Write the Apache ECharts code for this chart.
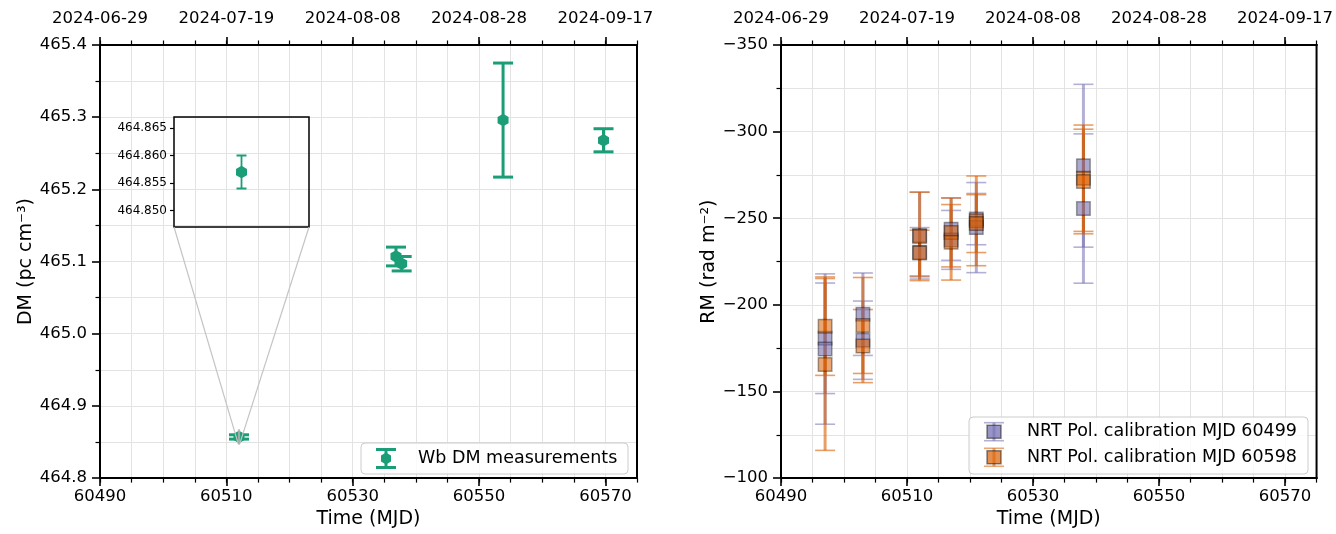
<!DOCTYPE html>
<html>
<head>
<meta charset="utf-8">
<title>DM and RM</title>
<script src="https://cdn.jsdelivr.net/npm/echarts@6/dist/echarts.min.js"></script>
<style>
html, body { margin: 0; padding: 0; background: #fff; }
#chart { width: 1336px; height: 534px; }
</style>
</head>
<body>
<div id="chart"></div>
<script>
// ---- data ----
var dmMjd   = [60512.0, 60536.85, 60537.75, 60553.8, 60569.7];
var dmValue = [464.857, 465.107, 465.097, 465.296, 465.268];
var dmError = [0.003, 0.013, 0.010, 0.079, 0.016];

var rmMjd      = [60497, 60497, 60503, 60503, 60512, 60512, 60517, 60517, 60521, 60521, 60538, 60538];
var rm60499    = [-180.7, -174.5, -194.6, -179.6, -240.0, -230.4, -243.7, -237.5, -249.5, -244.6, -280.3, -255.6];
var rm60499Err = [31.9, 43.4, 23.8, 22.6, 25.1, 14.2, 18.0, 17.0, 14.8, 26.0, 47.0, 43.1];
var rm60598    = [-187.7, -165.6, -188.1, -176.2, -239.5, -229.9, -241.8, -236.1, -248.5, -246.9, -273.1, -271.2];
var rm60598Err = [28.4, 49.6, 27.7, 21.1, 25.5, 13.2, 19.9, 21.8, 25.9, 16.7, 30.7, 30.2];

var xMajorTicks   = [60490, 60510, 60530, 60550, 60570];
var topTickLabels = ['2024-06-29', '2024-07-19', '2024-08-08', '2024-08-28', '2024-09-17'];
var insetTicks    = [464.850, 464.855, 464.860, 464.865];

var dmName = 'Wb DM measurements';
var rmNameA = 'NRT Pol. calibration MJD 60499';
var rmNameB = 'NRT Pol. calibration MJD 60598';

(function () {
    var chart = echarts.init(document.getElementById('chart'));

    var FONT = 'DejaVu Sans';
    var GREEN = '#1b9e77', PURPLE = '#7570b3', ORANGE = '#d95f02';
    var GRIDLINE = '#e3e3e3';
    var X_MIN = 60490, X_MAX = 60575;
    var insetX = [60511.9, 60512.1];
    var insetY = [464.847, 464.867];
    var INSET = {left: 174, top: 117, width: 135, height: 110};

    function rgba(hex, a) {
        var n = parseInt(hex.slice(1), 16);
        return 'rgba(' + (n >> 16) + ',' + ((n >> 8) & 255) + ',' + (n & 255) + ',' + a + ')';
    }
    function zip3(a, b, c) {
        return a.map(function (v, i) { return [v, b[i], c[i]]; });
    }

    var dmData = zip3(dmMjd, dmValue, dmError);
    var dmInset = dmData.filter(function (d) { return d[0] >= insetX[0] && d[0] <= insetX[1]; });
    var rmDataA = zip3(rmMjd, rm60499, rm60499Err);
    var rmDataB = zip3(rmMjd, rm60598, rm60598Err);

    var hexPath = 'path://M0,-1L0.866,-0.5L0.866,0.5L0,1L-0.866,0.5L-0.866,-0.5Z';

    function errorBars(name, xi, yi, data, st) {
        return {
            type: 'custom', name: name, xAxisIndex: xi, yAxisIndex: yi,
            data: data, encode: {x: 0, y: 1},
            itemStyle: {color: st.color},
            renderItem: function (params, api) {
                var x = api.value(0), y = api.value(1), e = api.value(2);
                var p1 = api.coord([x, y + e]);
                var p2 = api.coord([x, y - e]);
                var hw = st.cap / 2;
                return {
                    type: 'group',
                    children: [
                        {type: 'line', shape: {x1: p1[0], y1: p1[1], x2: p2[0], y2: p2[1]},
                         style: {stroke: st.color, lineWidth: st.width}},
                        {type: 'line', shape: {x1: p1[0] - hw, y1: p1[1], x2: p1[0] + hw, y2: p1[1]},
                         style: {stroke: st.color, lineWidth: st.capWidth}},
                        {type: 'line', shape: {x1: p2[0] - hw, y1: p2[1], x2: p2[0] + hw, y2: p2[1]},
                         style: {stroke: st.color, lineWidth: st.capWidth}}
                    ]
                };
            }
        };
    }

    function markers(name, xi, yi, data, symbol, size, itemStyle) {
        return {
            type: 'scatter', name: name, xAxisIndex: xi, yAxisIndex: yi,
            data: data.map(function (d) { return [d[0], d[1]]; }),
            symbol: symbol, symbolSize: size, itemStyle: itemStyle
        };
    }

    var axisLine = {show: true, lineStyle: {color: '#000', width: 2}};
    var tickLabel = {color: '#000', fontFamily: FONT, fontSize: 16.5};

    function minorX(grid, pos) {
        return {
            type: 'value', gridIndex: grid, position: pos, min: X_MIN, max: X_MAX, interval: 5,
            axisLine: axisLine,
            axisTick: {show: true, length: 4.5, lineStyle: {color: '#000', width: 1.2}},
            axisLabel: {show: false},
            splitLine: {show: pos === 'bottom', lineStyle: {color: GRIDLINE, width: 1}}
        };
    }
    function majorX(grid, pos) {
        var top = pos === 'top';
        var ax = {
            type: 'value', gridIndex: grid, position: pos, min: X_MIN, max: X_MAX,
            axisLine: axisLine,
            axisTick: {show: true, customValues: xMajorTicks, length: 8, lineStyle: {color: '#000', width: 1.6}},
            axisLabel: echarts.util.extend({
                customValues: xMajorTicks,
                margin: top ? 18 : 10,
                formatter: function (v) {
                    if (!top) return String(v);
                    var i = xMajorTicks.indexOf(v);
                    return i >= 0 ? topTickLabels[i] : '';
                }
            }, tickLabel),
            splitLine: {show: false}
        };
        if (!top) {
            ax.name = 'Time (MJD)';
            ax.nameLocation = 'middle';
            ax.nameGap = 30;
            ax.nameTextStyle = {color: '#000', fontFamily: FONT, fontSize: 19};
        }
        return ax;
    }

    var option = {
        animation: false,
        backgroundColor: '#fff',
        textStyle: {fontFamily: FONT, color: '#000'},
        grid: [
            {left: 100, top: 45, width: 537, height: 439, show: true, z: 3,
             borderColor: '#000', borderWidth: 2, backgroundColor: 'transparent'},
            {left: 781, top: 45, width: 536, height: 439, show: true, z: 3,
             borderColor: '#000', borderWidth: 2, backgroundColor: 'transparent'},
            {left: INSET.left, top: INSET.top, width: INSET.width, height: INSET.height, show: true, z: 3,
             borderColor: '#000', borderWidth: 1.5, backgroundColor: 'transparent'}
        ],
        xAxis: [
            minorX(0, 'bottom'), majorX(0, 'bottom'), minorX(0, 'top'), majorX(0, 'top'),
            minorX(1, 'bottom'), majorX(1, 'bottom'), minorX(1, 'top'), majorX(1, 'top'),
            {type: 'value', gridIndex: 2, min: insetX[0], max: insetX[1],
             axisLine: {show: false}, axisTick: {show: false}, axisLabel: {show: false}, splitLine: {show: false}}
        ],
        yAxis: [
            {
                type: 'value', gridIndex: 0, min: 464.8, max: 465.4, interval: 0.1,
                axisLine: axisLine,
                axisTick: {show: true, length: 8, lineStyle: {color: '#000', width: 1.6}},
                minorTick: {show: true, splitNumber: 2, length: 4.5, lineStyle: {color: '#000', width: 1.2}},
                splitLine: {show: true, lineStyle: {color: GRIDLINE, width: 1}},
                minorSplitLine: {show: true, lineStyle: {color: GRIDLINE, width: 1}},
                axisLabel: echarts.util.extend({margin: 13, formatter: function (v) { return v.toFixed(1); }}, tickLabel),
                name: 'DM (pc cm\u207B\u00B3)', nameLocation: 'middle', nameGap: 64,
                nameTextStyle: {color: '#000', fontFamily: FONT, fontSize: 19}
            },
            {
                type: 'value', gridIndex: 1, min: -350, max: -100, interval: 50, inverse: true,
                axisLine: axisLine,
                axisTick: {show: true, length: 8, lineStyle: {color: '#000', width: 1.6}},
                minorTick: {show: true, splitNumber: 2, length: 4.5, lineStyle: {color: '#000', width: 1.2}},
                splitLine: {show: true, lineStyle: {color: GRIDLINE, width: 1}},
                minorSplitLine: {show: true, lineStyle: {color: GRIDLINE, width: 1}},
                axisLabel: echarts.util.extend({margin: 13, formatter: function (v) {
                    return (v < 0 ? '\u2212' : '') + Math.abs(v);
                }}, tickLabel),
                name: 'RM (rad m\u207B\u00B2)', nameLocation: 'middle', nameGap: 62,
                nameTextStyle: {color: '#000', fontFamily: FONT, fontSize: 19}
            },
            {
                type: 'value', gridIndex: 2, min: insetY[0], max: insetY[1],
                axisLine: {show: false},
                axisTick: {show: true, customValues: insetTicks, length: 4, lineStyle: {color: '#000', width: 1.2}},
                axisLabel: {customValues: insetTicks, margin: 7, color: '#000', fontFamily: FONT, fontSize: 12,
                            formatter: function (v) { return v.toFixed(3); }},
                splitLine: {show: false}
            }
        ],
        series: [
            errorBars(dmName, 0, 0, dmData, {color: GREEN, width: 3, cap: 20, capWidth: 3}),
            markers(dmName, 0, 0, dmData, hexPath, [11, 12.5], {color: GREEN, opacity: 1}),
            errorBars(dmName + ' inset', 8, 2, dmInset, {color: GREEN, width: 1.8, cap: 10, capWidth: 2}),
            markers(dmName + ' inset', 8, 2, dmInset, hexPath, [11, 12.5], {color: GREEN, opacity: 1}),

            errorBars(rmNameA, 4, 1, rmDataA, {color: rgba(PURPLE, 0.55), width: 3, cap: 20, capWidth: 1.6}),
            markers(rmNameA, 4, 1, rmDataA, 'rect', 13.5,
                    {color: rgba(PURPLE, 0.75), borderColor: 'rgba(0,0,0,0.45)', borderWidth: 1.5}),
            errorBars(rmNameB, 4, 1, rmDataB, {color: rgba(ORANGE, 0.6), width: 3, cap: 20, capWidth: 1.6}),
            markers(rmNameB, 4, 1, rmDataB, 'rect', 13.5,
                    {color: rgba(ORANGE, 0.7), borderColor: 'rgba(0,0,0,0.45)', borderWidth: 1.5})
        ],
        graphic: []
    };

    // ---- legends (matplotlib style boxes) ----
    function hexPoints(cx, cy, rx, ry) {
        return [[cx, cy - ry], [cx + rx, cy - ry / 2], [cx + rx, cy + ry / 2],
                [cx, cy + ry], [cx - rx, cy + ry / 2], [cx - rx, cy - ry / 2]];
    }
    function errIcon(id, cx, cy, half, capW, color, lw, clw) {
        return [
            {type: 'line', id: id + 'v', z: 100, shape: {x1: cx, y1: cy - half, x2: cx, y2: cy + half}, style: {stroke: color, lineWidth: lw}},
            {type: 'line', id: id + 't', z: 100, shape: {x1: cx - capW / 2, y1: cy - half, x2: cx + capW / 2, y2: cy - half}, style: {stroke: color, lineWidth: clw}},
            {type: 'line', id: id + 'b', z: 100, shape: {x1: cx - capW / 2, y1: cy + half, x2: cx + capW / 2, y2: cy + half}, style: {stroke: color, lineWidth: clw}}
        ];
    }
    function legendText(id, x, y, text) {
        return {type: 'text', id: id, z: 100, x: x, y: y,
                style: {text: text, fill: '#000', font: '17.5px "DejaVu Sans"', textVerticalAlign: 'middle', verticalAlign: 'middle'}};
    }
    var g = option.graphic;
    g.push({type: 'rect', id: 'lgL', z: 99, shape: {x: 361, y: 443, width: 267, height: 31, r: 4},
            style: {fill: 'rgba(255,255,255,0.8)', stroke: '#cccccc', lineWidth: 1}});
    Array.prototype.push.apply(g, errIcon('lgLi', 386, 458.5, 9, 20, GREEN, 3, 3));
    g.push({type: 'polygon', id: 'lgLh', z: 100, shape: {points: hexPoints(386, 458.5, 5, 6)}, style: {fill: GREEN}});
    g.push(legendText('lgLt', 418, 458.5, dmName));

    g.push({type: 'rect', id: 'lgR', z: 99, shape: {x: 969, y: 417, width: 339, height: 57, r: 4},
            style: {fill: 'rgba(255,255,255,0.8)', stroke: '#cccccc', lineWidth: 1}});
    [[rmNameA, PURPLE, 0.75, 431.7], [rmNameB, ORANGE, 0.7, 457.3]].forEach(function (r, i) {
        Array.prototype.push.apply(g, errIcon('lgR' + i, 994, r[3], 9, 20, rgba(r[1], 0.55), 3, 1.6));
        g.push({type: 'rect', id: 'lgRs' + i, z: 100, shape: {x: 994 - 7, y: r[3] - 6.5, width: 14, height: 13},
                style: {fill: rgba(r[1], r[2]), stroke: 'rgba(0,0,0,0.45)', lineWidth: 1.5}});
        g.push(legendText('lgRt' + i, 1027, r[3], r[0]));
    });

    chart.setOption(option);

    // ---- inset connectors (mark_inset style) ----
    var finder = {xAxisIndex: 0, yAxisIndex: 0};
    var tl = chart.convertToPixel(finder, [insetX[0], insetY[1]]);
    var bl = chart.convertToPixel(finder, [insetX[0], insetY[0]]);
    var br = chart.convertToPixel(finder, [insetX[1], insetY[0]]);
    var boxBottom = INSET.top + INSET.height;
    var conn = {stroke: '#c4c4c4', lineWidth: 1.2};
    chart.setOption({
        graphic: [
            {type: 'line', id: 'c1', z: 90, shape: {x1: INSET.left, y1: boxBottom, x2: bl[0], y2: bl[1]}, style: conn},
            {type: 'line', id: 'c2', z: 90, shape: {x1: INSET.left + INSET.width, y1: boxBottom, x2: br[0], y2: br[1]}, style: conn},
            {type: 'rect', id: 'c3', z: 90, shape: {x: tl[0], y: tl[1], width: br[0] - tl[0], height: br[1] - tl[1]},
             style: {fill: 'none', stroke: '#b0b0b0', lineWidth: 1}}
        ]
    });
})();
</script>
</body>
</html>
